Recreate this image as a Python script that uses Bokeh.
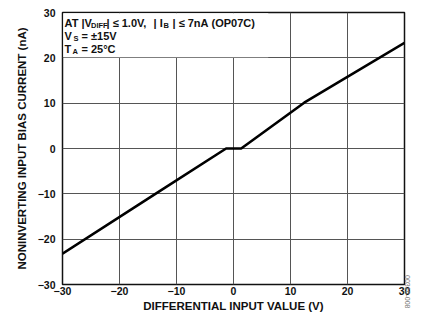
from bokeh.plotting import figure
from bokeh.models import FixedTicker, Label, BoxAnnotation, Range1d, Title
from bokeh.embed import file_html
from bokeh.resources import INLINE

# Data
vdiff = [-30, -13.7, -1.3, 1.35, 12.4, 30]
ib = [-23.2, -10, 0, 0, 10.1, 23.3]

x_ticks = [-30, -20, -10, 0, 10, 20, 30]
y_ticks = [-30, -20, -10, 0, 10, 20, 30]
x_tick_labels = ["\u221230", "\u221220", "\u221210", "0", "10", "20", "30"]
y_tick_labels = ["\u221230", "\u221220", "\u221210", "0", "10", "20", "30"]

FONT = "Liberation Sans"
W, H = 421, 317

p = figure(width=W, height=H, output_backend="svg", toolbar_location=None,
           x_range=Range1d(-30, 30), y_range=Range1d(-30, 30),
           min_border_left=62, min_border_right=17, min_border_top=12, min_border_bottom=33)
p.frame_width = 342
p.frame_height = 272

p.line(vdiff, ib, line_color="black", line_width=2.6)

p.xaxis.ticker = FixedTicker(ticks=x_ticks)
p.yaxis.ticker = FixedTicker(ticks=y_ticks)
p.xaxis.major_label_overrides = {t: l for t, l in zip(x_ticks, x_tick_labels)}
p.yaxis.major_label_overrides = {t: l for t, l in zip(y_ticks, y_tick_labels)}

for ax in (p.xaxis, p.yaxis):
    ax.major_tick_out = 0
    ax.major_tick_in = 0
    ax.minor_tick_out = 0
    ax.minor_tick_in = 0
    ax.axis_line_color = None
    ax.major_label_text_font = FONT
    ax.major_label_text_font_style = "bold"
    ax.major_label_text_font_size = "10.5px"
    ax.major_label_text_color = "#111111"
    ax.axis_label_text_font = FONT
    ax.axis_label_text_font_style = "bold"
    ax.axis_label_text_font_size = "11.5px"
    ax.axis_label_text_color = "#111111"

p.xaxis.axis_label = "DIFFERENTIAL INPUT VALUE (V)"
p.yaxis.axis_label = "NONINVERTING INPUT BIAS CURRENT (nA)"
p.xaxis.major_label_standoff = 2
p.xaxis.axis_label_standoff = 2
p.yaxis.major_label_standoff = 7
p.yaxis.axis_label_standoff = 7

p.grid.grid_line_color = "#555555"
p.grid.grid_line_width = 1
p.grid.grid_line_alpha = 1

p.outline_line_color = "#111111"
p.outline_line_width = 1.5
p.background_fill_color = "white"
p.border_fill_color = "white"

# white box behind annotation text
p.add_layout(BoxAnnotation(left=-29.85, right=6.1, bottom=20.15, top=29.85,
                           fill_color="white", fill_alpha=1, line_color=None))

# pixel helpers (frame: x -30..30 over 342px from px 62, y 30..-30 over 272px from px 12)
sx = 60 / 342.0
sy = 60 / 272.0
def xd(px):
    return -30 + (px - 62) * sx
def yd(py):
    return 30 - (py - 12) * sy

def lab(px, py, txt, size="11px", color="#111111"):
    p.add_layout(Label(x=xd(px), y=yd(py), text=txt, text_font=FONT,
                       text_font_style="bold", text_font_size=size,
                       text_color=color, text_baseline="alphabetic", text_align="left"))

SUB = "7.5px"
# line 1: AT |V_DIFF| <= 1.0V, | I_B | <= 7nA (OP07C)
lab(64, 22, "AT |V")
lab(90.5, 24.5, "DIFF", size=SUB)
lab(106, 22, "| \u2264 1.0V,")
lab(153, 22, "| I")
lab(163, 24.5, "B", size=SUB)
lab(172, 22, "| \u2264 7nA")
lab(211, 22, "(OP07C)")
# line 2
lab(64, 35, "V")
lab(73, 37.5, "S", size=SUB)
lab(81, 35, "= \u00b115V")
# line 3
lab(64, 48, "T")
lab(72, 50.5, "A", size=SUB)
lab(81, 48, "= 25\u00b0C")

# figure id, vertical, in the right border
p.add_layout(Title(text="00316-008", text_font=FONT, text_font_size="7px",
                   text_font_style="normal", text_color="#777777",
                   align="right", standoff=0, offset=-24), "right")

open("out.html", "w").write(file_html(p, INLINE))
